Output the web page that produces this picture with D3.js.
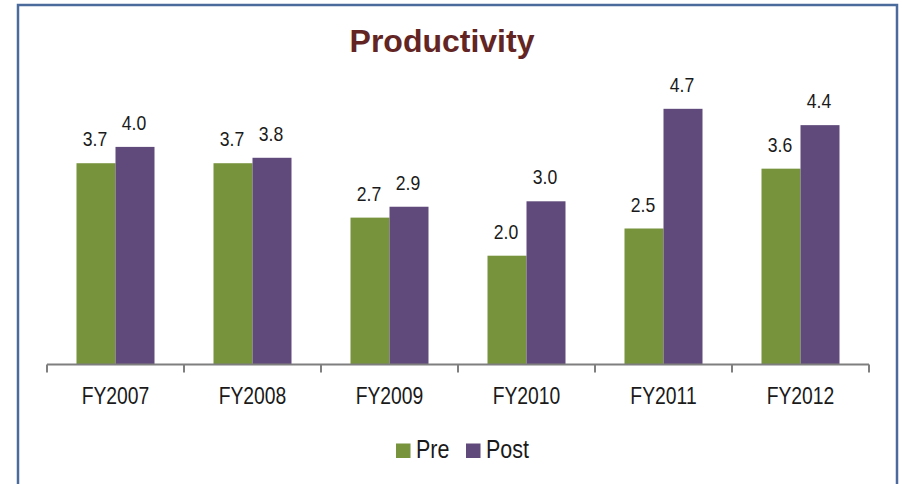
<!DOCTYPE html>
<html>
<head>
<meta charset="utf-8">
<script src="https://cdn.jsdelivr.net/npm/d3@7"></script>
<style>
  body { margin: 0; background: #fff; }
  svg { display: block; }
  .narrow { font-family: "Liberation Sans", Arial, sans-serif; }
</style>
</head>
<body>
<div id="chart"></div>
<script>
var categories = ["FY2007", "FY2008", "FY2009", "FY2010", "FY2011", "FY2012"];
var seriesNames = ["Pre", "Post"];
var preValues = [3.7, 3.7, 2.7, 2.0, 2.5, 3.6];
var postValues = [4.0, 3.8, 2.9, 3.0, 4.7, 4.4];
var colors = ["#77933c", "#604a7b"];

var W = 902, H = 484;
// no narrow font installed, so squash Liberation Sans horizontally
var squeezeVal = 0.88, squeezeCat = 0.83, squeezeLeg = 0.86;
var svg = d3.select("#chart").append("svg")
    .attr("width", W)
    .attr("height", H);

// outer frame (bottom edge is cut off in the original)
svg.append("rect")
    .attr("x", 18).attr("y", 5)
    .attr("width", 879).attr("height", 520)
    .attr("fill", "#fff")
    .attr("stroke", "#4a6b9b")
    .attr("stroke-width", 2.5);

svg.append("text")
    .attr("x", 442).attr("y", 52)
    .attr("text-anchor", "middle")
    .attr("font-family", "'Liberation Sans', Arial, sans-serif")
    .attr("font-weight", "bold")
    .attr("font-size", 32)
    .attr("fill", "#632523")
    .text("Productivity");

var baseY = 364.5;
var x0 = d3.scaleBand().domain(categories).range([47, 869]).padding(0);
var x1 = d3.scaleBand().domain(seriesNames).range([29.5, 107.5]).padding(0);
var y = d3.scaleLinear().domain([0, 5]).range([baseY, 92.5]);

var rows = categories.map(function(c, i) {
    return { cat: c, vals: [preValues[i], postValues[i]] };
});

var groups = svg.selectAll(".cat")
    .data(rows)
    .enter().append("g")
    .attr("class", "cat")
    .attr("transform", function(d) { return "translate(" + x0(d.cat) + ",0)"; });

groups.selectAll("rect")
    .data(function(d) { return d.vals.map(function(v, j) { return { s: seriesNames[j], v: v, j: j }; }); })
    .enter().append("rect")
    .attr("x", function(d) { return x1(d.s); })
    .attr("y", function(d) { return y(d.v); })
    .attr("width", x1.bandwidth())
    .attr("height", function(d) { return baseY - y(d.v); })
    .attr("fill", function(d) { return colors[d.j]; });

groups.selectAll("text.val")
    .data(function(d) { return d.vals.map(function(v, j) { return { s: seriesNames[j], v: v }; }); })
    .enter().append("text")
    .attr("class", "val narrow")
    .attr("transform", function(d) {
        return "translate(" + (x1(d.s) + x1.bandwidth() / 2 - 1) + "," + (y(d.v) - 17) + ") scale(" + squeezeVal + ",1)";
    })
    .attr("text-anchor", "middle")
    .attr("font-size", 20)
    .attr("fill", "#1a1a1a")
    .text(function(d) { return d3.format(".1f")(d.v); });

// category axis
var xAxis = svg.append("g")
    .attr("transform", "translate(0," + baseY + ")")
    .call(d3.axisBottom(x0).tickSize(0).tickPadding(23));
xAxis.select(".domain").remove();
xAxis.selectAll("text")
    .attr("class", "narrow")
    .attr("font-family", null)
    .attr("font-size", 23.3)
    .attr("fill", "#1a1a1a")
    .attr("transform", "scale(" + squeezeCat + ",1)");

svg.append("line")
    .attr("x1", x0.range()[0]).attr("x2", x0.range()[1])
    .attr("y1", baseY).attr("y2", baseY)
    .attr("stroke", "#7f7f7f").attr("stroke-width", 2);

var tickPos = categories.map(function(c) { return x0(c); }).concat([x0.range()[1]]);
svg.selectAll(".tk")
    .data(tickPos)
    .enter().append("line")
    .attr("x1", function(d) { return d; }).attr("x2", function(d) { return d; })
    .attr("y1", baseY).attr("y2", baseY + 8)
    .attr("stroke", "#7f7f7f").attr("stroke-width", 2);

// legend
var legendX = [396, 466];
var leg = svg.selectAll(".leg")
    .data(seriesNames)
    .enter().append("g")
    .attr("transform", function(d, i) { return "translate(" + legendX[i] + ",0)"; });
leg.append("rect")
    .attr("x", 0).attr("y", 443.5)
    .attr("width", 14.5).attr("height", 14.5)
    .attr("fill", function(d, i) { return colors[i]; });
leg.append("text")
    .attr("class", "narrow")
    .attr("transform", "translate(20,458) scale(" + squeezeLeg + ",1)")
    .attr("font-size", 25)
    .attr("fill", "#1a1a1a")
    .text(function(d) { return d; });
</script>
</body>
</html>
